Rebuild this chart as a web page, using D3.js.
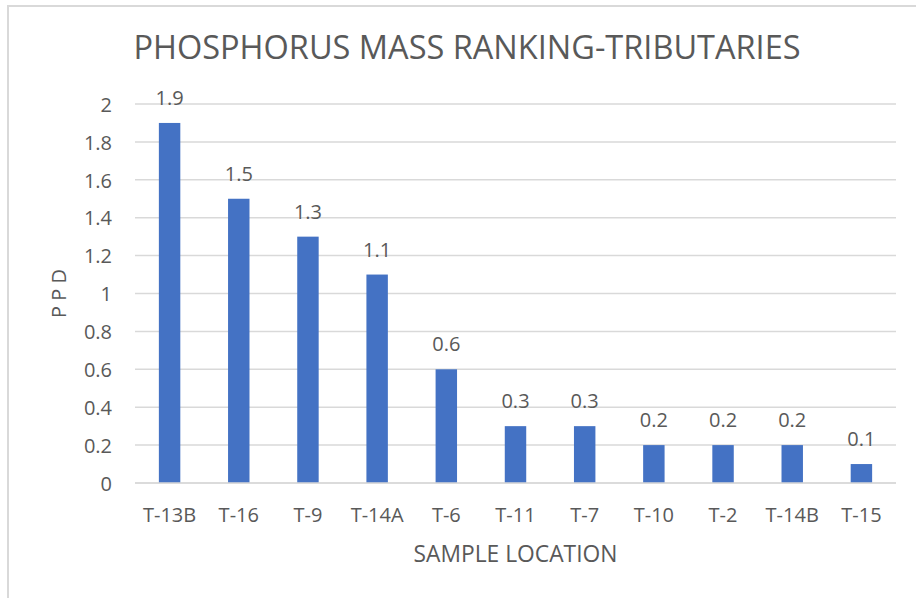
<!DOCTYPE html>
<html>
<head>
<meta charset="utf-8">
<script src="https://cdn.jsdelivr.net/npm/d3@7"></script>
<style>
  html, body { margin: 0; padding: 0; background: #fff; }
  svg { display: block; font-family: "Open Sans", sans-serif; }
</style>
</head>
<body>
<svg id="chart" width="916" height="598"></svg>
<script>
const categories = ["T-13B", "T-16", "T-9", "T-14A", "T-6", "T-11", "T-7", "T-10", "T-2", "T-14B", "T-15"];
const values = [1.9, 1.5, 1.3, 1.1, 0.6, 0.3, 0.3, 0.2, 0.2, 0.2, 0.1];
const yTicks = [0, 0.2, 0.4, 0.6, 0.8, 1, 1.2, 1.4, 1.6, 1.8, 2];
const titleText = "PHOSPHORUS MASS RANKING-TRIBUTARIES";
const xTitle = "SAMPLE LOCATION";
const yTitle = "P P D";

const svg = d3.select("#chart");
const W = 916, H = 598;
const plot = { left: 135, right: 896, top: 104, bottom: 483 };
const grey = "#595959", gridC = "#d9d9d9", barC = "#4472c4";

// frame
svg.append("line").attr("x1", 7).attr("x2", W).attr("y1", 6).attr("y2", 6)
  .attr("stroke", gridC).attr("stroke-width", 2);
svg.append("line").attr("x1", 8).attr("x2", 8).attr("y1", 5).attr("y2", H)
  .attr("stroke", gridC).attr("stroke-width", 2);

const x = d3.scaleBand().domain(categories).range([plot.left, plot.right]).padding(0);
const y = d3.scaleLinear().domain([0, 2]).range([plot.bottom, plot.top]);

// gridlines
svg.append("g").selectAll("line").data(yTicks).join("line")
  .attr("x1", plot.left).attr("x2", plot.right)
  .attr("y1", d => y(d)).attr("y2", d => y(d))
  .attr("stroke", gridC).attr("stroke-width", 1.5);

// y tick labels via axis
const yAxis = d3.axisLeft(y).tickValues(yTicks).tickSize(0).tickPadding(0)
  .tickFormat(d => String(d));
const yg = svg.append("g").attr("transform", `translate(112,0)`).call(yAxis);
yg.select(".domain").remove();
yg.selectAll("text").attr("fill", grey).style("font-size", "20px")
  .style("font-family", "'Open Sans', sans-serif").attr("dy", "0.36em");

// x tick labels via axis
const xAxis = d3.axisBottom(x).tickSize(0).tickPadding(0);
const xg = svg.append("g").attr("transform", `translate(0,${plot.bottom})`).call(xAxis);
xg.select(".domain").remove();
xg.selectAll("text").attr("fill", grey).style("font-size", "20px")
  .style("font-family", "'Open Sans', sans-serif").attr("y", 39).attr("dy", 0);

// bars
const bw = x.bandwidth() * 0.31;
svg.append("g").selectAll("rect").data(values).join("rect")
  .attr("x", (d, i) => x(categories[i]) + x.bandwidth() / 2 - bw / 2)
  .attr("width", bw)
  .attr("y", d => y(d))
  .attr("height", d => y(0) - y(d))
  .attr("fill", barC);

// baseline
svg.append("line").attr("x1", plot.left).attr("x2", plot.right)
  .attr("y1", y(0)).attr("y2", y(0)).attr("stroke", gridC).attr("stroke-width", 1.5);

// value labels
svg.append("g").selectAll("text").data(values).join("text")
  .attr("x", (d, i) => x(categories[i]) + x.bandwidth() / 2)
  .attr("y", d => y(d) - 18)
  .attr("text-anchor", "middle")
  .attr("fill", grey)
  .style("font-size", "20px")
  .text(d => String(d));

// title
svg.append("text").attr("x", 467).attr("y", 59).attr("text-anchor", "middle")
  .attr("fill", grey).style("font-size", "32.5px").text(titleText);

// axis titles
svg.append("text").attr("x", (plot.left + plot.right) / 2).attr("y", 562)
  .attr("text-anchor", "middle").attr("fill", grey).style("font-size", "22.8px").text(xTitle);
svg.append("text").attr("transform", `translate(66,${(plot.top + plot.bottom) / 2}) rotate(-90)`)
  .attr("text-anchor", "middle").attr("fill", grey).style("font-size", "20px").text(yTitle);
</script>
</body>
</html>
